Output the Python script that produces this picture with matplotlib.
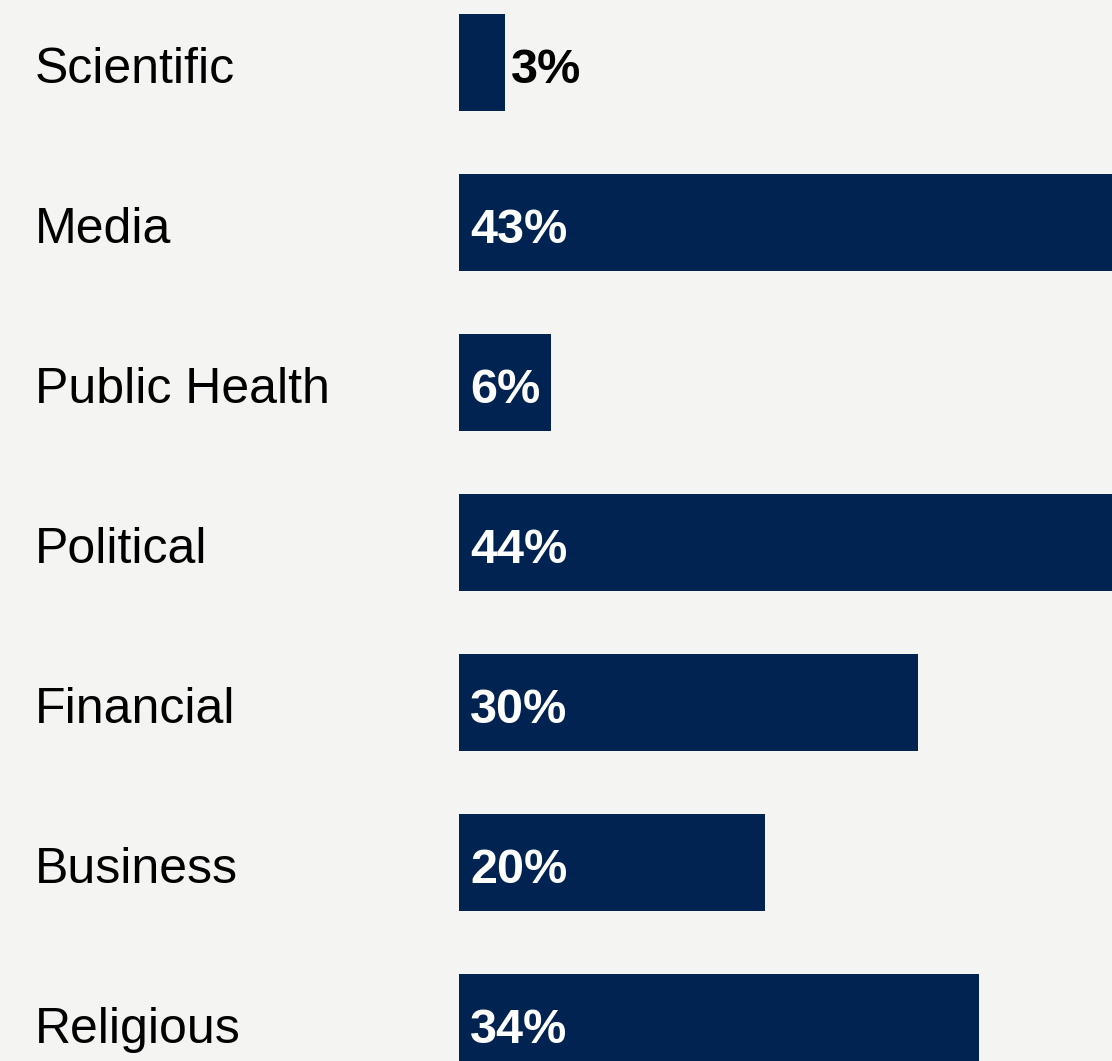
import matplotlib.pyplot as plt

categories = ['Scientific', 'Media', 'Public Health', 'Political', 'Financial', 'Business', 'Religious']
values = [3, 43, 6, 44, 30, 20, 34]

BG = '#f4f4f2'
BAR = '#002351'
PX_PER_PCT = 15.3

plt.rcParams['font.family'] = ['Liberation Sans', 'DejaVu Sans']

fig = plt.figure(figsize=(11.12, 10.61), dpi=100, facecolor=BG)
ax = fig.add_axes([0, 0, 1, 1])
ax.set_facecolor(BG)

# bars start 459 px from the left edge, rows every 160 px
ax.set_xlim(-459 / PX_PER_PCT, 653 / PX_PER_PCT)
ax.set_ylim((1061 - 62.5) / 160, -62.5 / 160)

ypos = list(range(len(categories)))
ax.barh(ypos, values, height=97 / 160, left=0, color=BAR)

base = 20.5 / 160
for y, cat, v in zip(ypos, categories, values):
    ax.text((35 - 459) / PX_PER_PCT, y + base, cat, fontsize=36, color='black',
            ha='left', va='baseline')
    if v < 5:
        ax.text(v + 6 / PX_PER_PCT, y + base, f'{v}%', fontsize=35, fontweight='bold',
                color='black', ha='left', va='baseline')
    else:
        ax.text(11 / PX_PER_PCT, y + base, f'{v}%', fontsize=35, fontweight='bold',
                color='white', ha='left', va='baseline')

ax.axis('off')
fig.savefig('out.png', dpi=100, facecolor=BG)
